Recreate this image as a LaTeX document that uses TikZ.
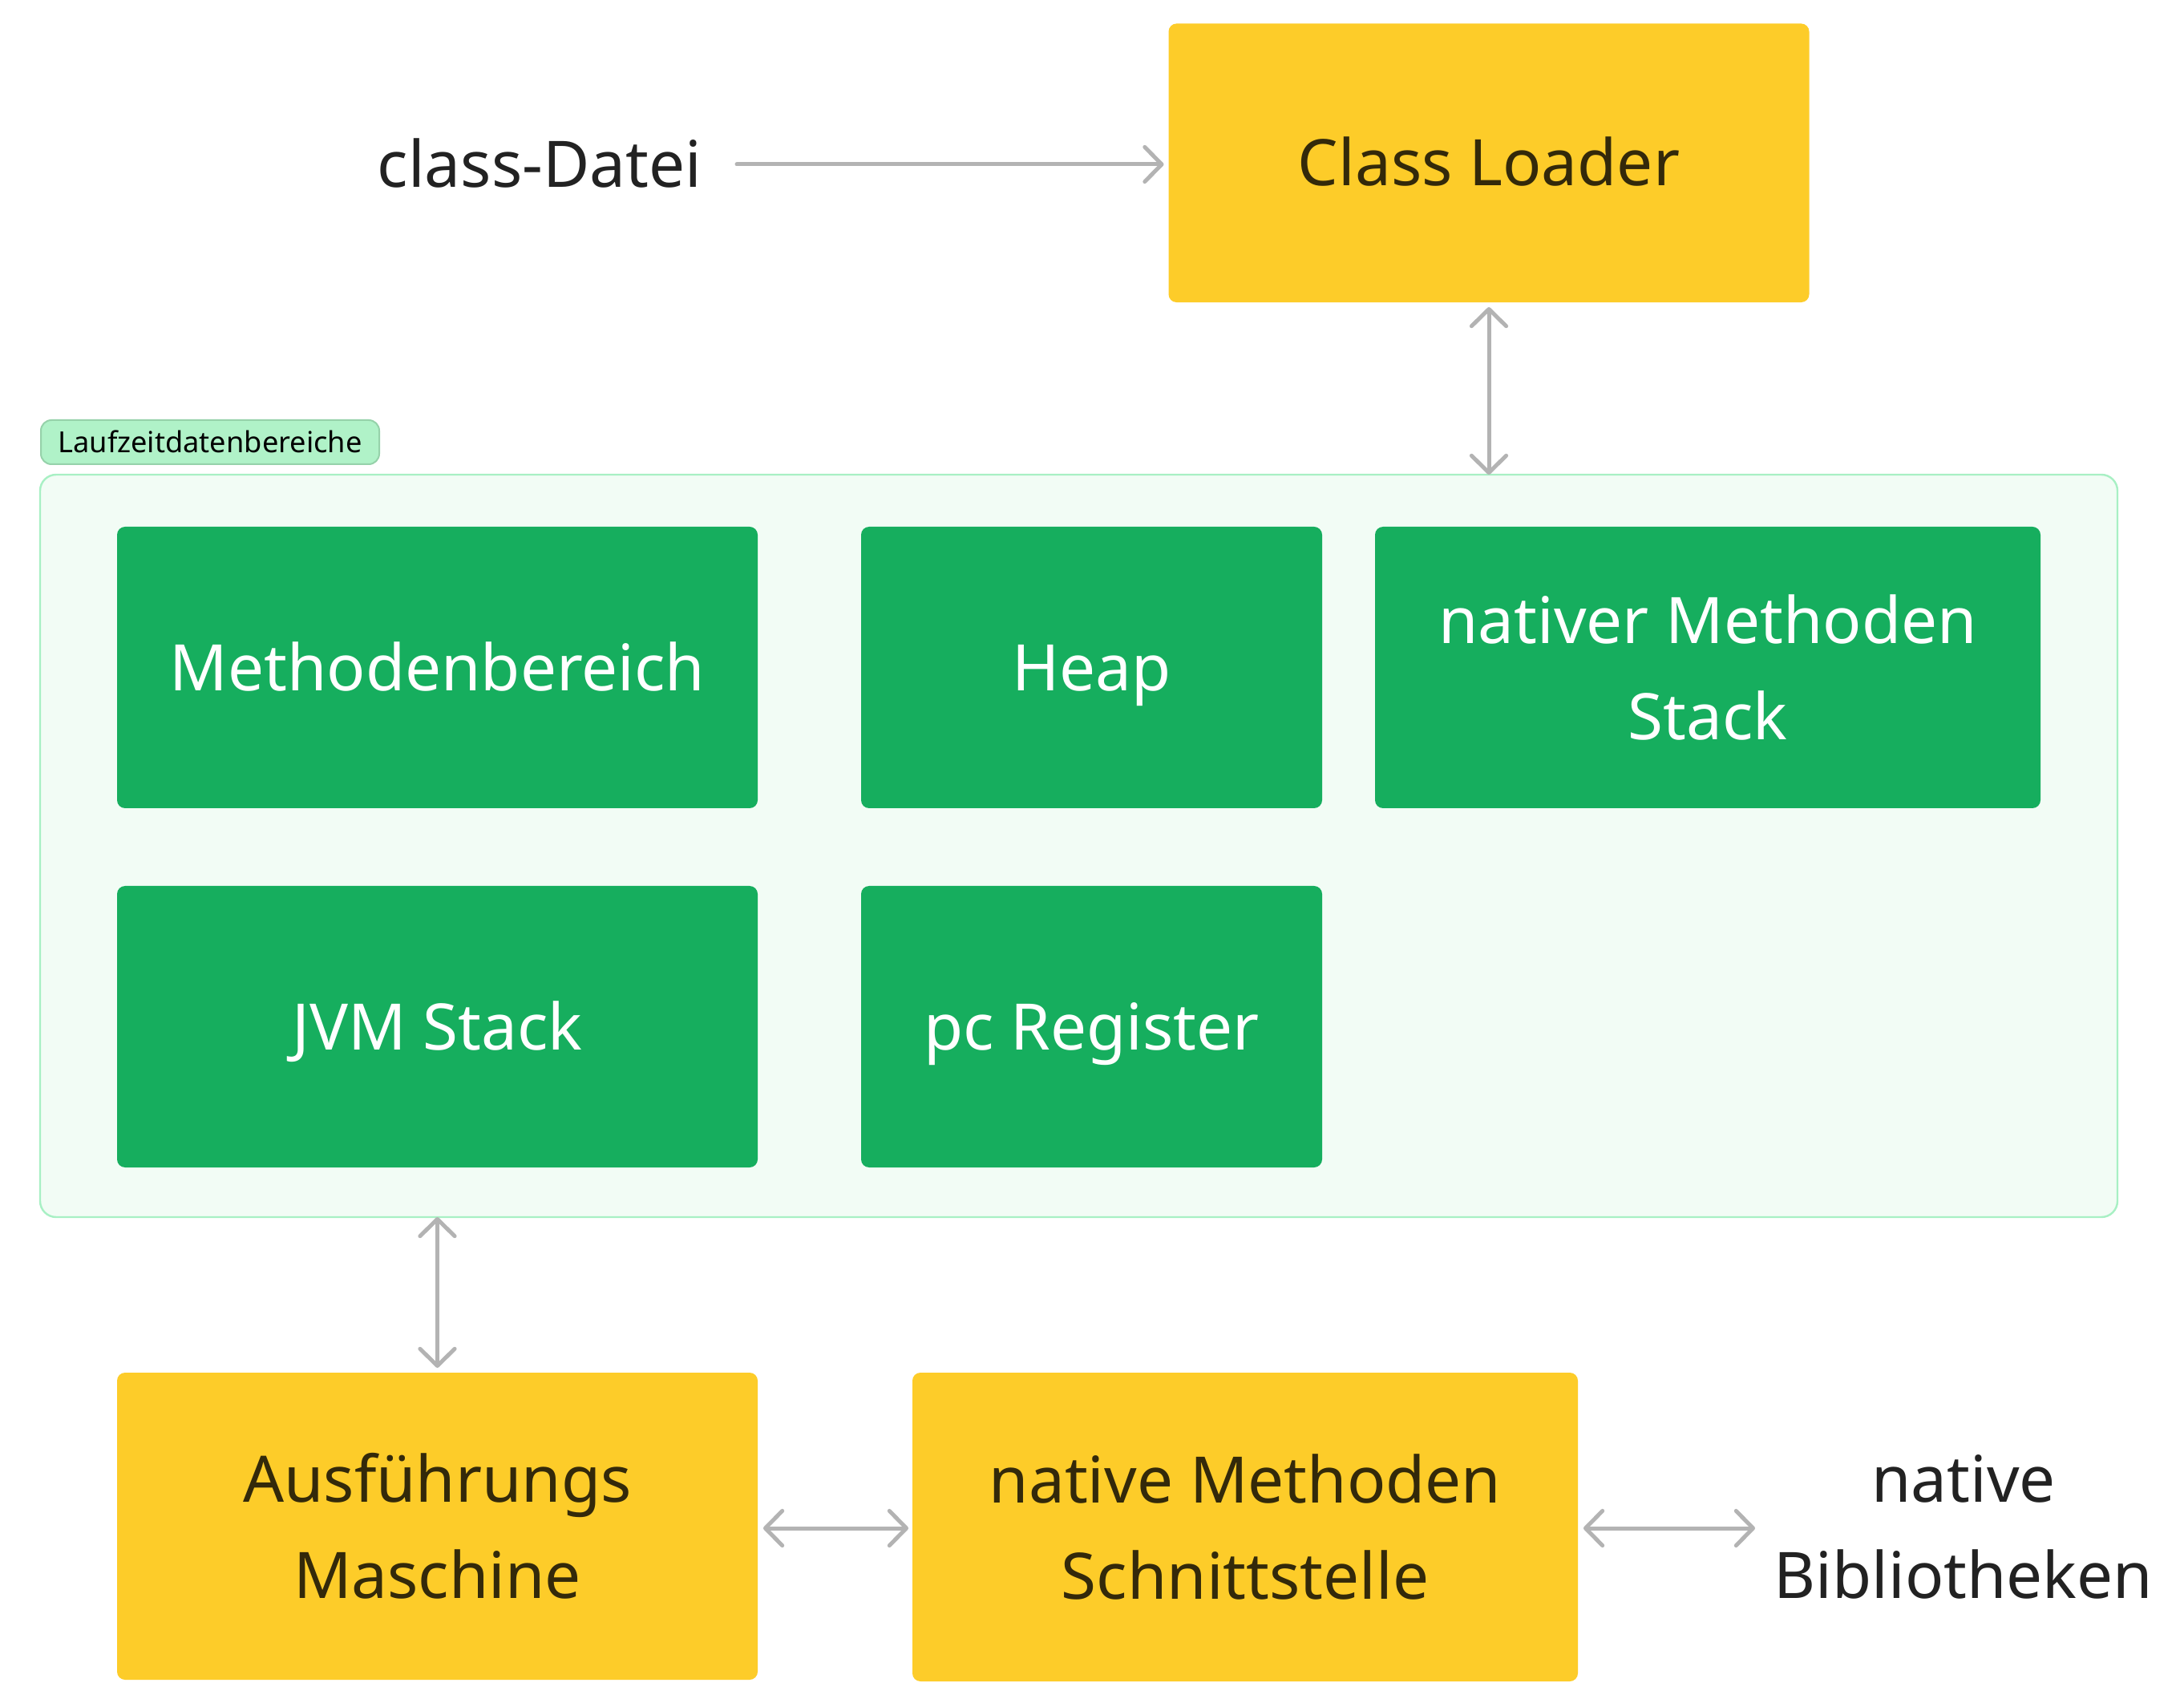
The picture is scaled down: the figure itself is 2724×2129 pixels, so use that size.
\documentclass[tikz,border=0pt]{standalone}
\usepackage{fontspec}
\setmainfont{Noto Sans}
\usetikzlibrary{arrows.meta}
\definecolor{yel}{HTML}{FDCC29}
\definecolor{yeltxt}{HTML}{33290A}
\definecolor{grn}{HTML}{16AE5E}
\definecolor{cfill}{HTML}{F2FCF5}
\definecolor{cborder}{HTML}{A8F0C4}
\definecolor{tagfill}{HTML}{B0F2C8}
\definecolor{tagborder}{HTML}{96D2AA}
\definecolor{arrgray}{HTML}{B3B3B3}
\definecolor{outtxt}{HTML}{222222}
\tikzset{
  bigfont/.style={font=\fontsize{20pt}{30pt}\selectfont},
  oneline/.style={text height=14.3pt, text depth=0pt},
  yelbox/.style={bigfont, fill=yel, text=yeltxt, rounded corners=2.5pt, inner sep=0pt, outer sep=0pt, align=center},
  grnbox/.style={bigfont, fill=grn, text=white, rounded corners=2.5pt, inner sep=0pt, outer sep=0pt, align=center},
  plaintxt/.style={bigfont, text=outtxt, inner sep=0pt, outer sep=0pt, align=center},
  arr/.style={draw=arrgray, line width=1.25pt, line cap=round,
    arrows={-Straight Barb[length=5.3pt, width=10.8pt, line cap=round, line join=round]}},
  darr/.style={draw=arrgray, line width=1.25pt, line cap=round,
    arrows={Straight Barb[length=5.3pt, width=10.8pt, line cap=round, line join=round]-Straight Barb[length=5.3pt, width=10.8pt, line cap=round, line join=round]}}
}
\begin{document}
\begin{tikzpicture}[x=0.25pt,y=-0.25pt]
\useasboundingbox[fill=white] (0,0) rectangle (2724,2129);

% runtime data area container
\node[draw=cborder, fill=cfill, line width=0.6pt, rounded corners=5pt, minimum width=647.75pt, minimum height=231.5pt, inner sep=0pt, outer sep=0pt] (rt) at (1345.5,1055) {};
\node[draw=tagborder, fill=tagfill, line width=0.5pt, rounded corners=3.3pt, minimum width=105.5pt, minimum height=13.75pt, inner sep=0pt, outer sep=0pt, font=\fontsize{9.05pt}{11pt}\selectfont, text=black, text height=6.5pt, text depth=0pt] (tag) at (262,551.5) {Laufzeitdatenbereiche};

% top
\node[plaintxt, oneline, minimum width=102pt] (cd) at (673,205) {class-Datei};
\node[yelbox, oneline, minimum width=199.75pt, minimum height=86.9pt] (cl) at (1857,203.25) {Class Loader};

% green boxes
\node[grnbox, oneline, minimum width=199.75pt, minimum height=87.75pt] (mb) at (545.5,832.5) {Methodenbereich};
\node[grnbox, oneline, minimum width=143.75pt, minimum height=87.75pt] (hp) at (1361.5,832.5) {Heap};
\node[grnbox, minimum width=207.5pt, minimum height=87.75pt] (nms) at (2130,832.5) {nativer Methoden\\Stack};
\node[grnbox, oneline, minimum width=199.75pt, minimum height=87.75pt] (jvm) at (545.5,1280.5) {JVM Stack};
\node[grnbox, oneline, minimum width=143.75pt, minimum height=87.75pt] (pc) at (1361.5,1280.5) {pc Register};

% bottom
\node[yelbox, minimum width=199.75pt, minimum height=95.75pt] (am) at (545.5,1903.5) {Ausführungs\\Maschine};
\node[yelbox, minimum width=207.5pt, minimum height=96.25pt] (nmi) at (1553,1904.5) {native Methoden\\Schnittstelle};
\node[plaintxt] (nb) at (2449,1904.5) {native\\Bibliotheken};

% connectors
\draw[arr, shorten <=10.5pt, shorten >=1.5pt] (cd.east) -- (cl.west |- cd.east);
\draw[darr, shorten <=1.5pt] (cl.south) -- (cl.south |- rt.north);
\draw[darr, shorten >=1.5pt] (am.north |- rt.south) -- (am.north);
\draw[darr, shorten <=1.75pt, shorten >=1.25pt] (am.east |- 0,1906) -- (nmi.west |- 0,1906);
\draw[darr, shorten <=1.75pt] (nmi.east |- 0,1906) -- (2189,1906) coordinate (nbend);
\end{tikzpicture}
\end{document}
